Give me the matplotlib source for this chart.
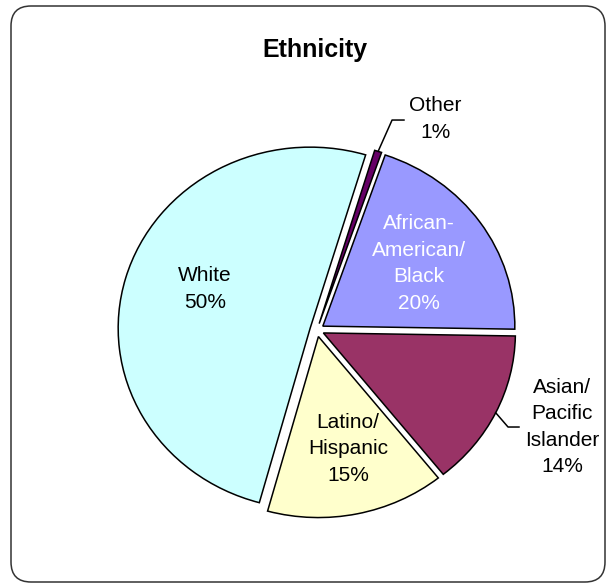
import numpy as np
import matplotlib
matplotlib.use("Agg")
import matplotlib.pyplot as plt
from matplotlib.patches import FancyBboxPatch
from matplotlib.transforms import IdentityTransform

labels = ["Other", "African-\nAmerican/\nBlack", "Asian/\nPacific\nIslander", "Latino/\nHispanic", "White"]
values = [0.6, 20, 14, 15, 50.4]
colors = ["#660066", "#9999FF", "#993366", "#FFFFCC", "#CCFFFF"]
text_colors = ["black", "white", "black", "black", "black"]

# label placement (data units), leader lines for the outside labels
label_xy = [(0.615, 1.166), (0.531, 0.367), (1.276, -0.536), (0.161, -0.657), (-0.583, 0.227)]
leaders = {0: [(0.391, 1.160), (0.453, 1.160)], 2: [(0.995, -0.536), (1.052, -0.536)]}

plt.rcParams["font.family"] = ["Liberation Sans", "DejaVu Sans"]

fig = plt.figure(figsize=(6.08, 5.84), dpi=100)
ax = fig.add_axes([0, 0, 1, 1])

explode = [0.037] * len(values)
wedges, _ = ax.pie(values, colors=colors, explode=explode, startangle=73.2,
                   counterclock=False,
                   wedgeprops=dict(edgecolor="black", linewidth=1.1))
ax.set_aspect("auto")
ax.set_xlim(-317 / 192, (608 - 317) / 192)
ax.set_ylim((330 - 584) / 181, 330 / 181)
ax.axis("off")

total = sum(values)
for i, (w, lab) in enumerate(zip(wedges, labels)):
    pct = "%d%%" % max(1, round(values[i] / total * 100))
    x, y = label_xy[i]
    ax.text(x, y, lab + "\n" + pct, ha="center", va="center", fontsize=15,
            color=text_colors[i], linespacing=1.5)
    if i in leaders:
        mid = np.deg2rad((w.theta1 + w.theta2) / 2)
        cx, cy = w.center
        start = (cx + w.r * np.cos(mid), cy + w.r * np.sin(mid))
        pts = [start] + leaders[i]
        ax.plot([p[0] for p in pts], [p[1] for p in pts], color="black", lw=1.1)

fig.text(315 / 608, 1 - 50 / 584, "Ethnicity", ha="center", va="center",
         fontsize=18, fontweight="bold")

frame = FancyBboxPatch((11, 2), 594, 576, boxstyle="round,pad=0,rounding_size=20",
                       transform=IdentityTransform(), facecolor="none",
                       edgecolor="#333333", linewidth=1.1)
fig.patches.append(frame)

plt.savefig("out.png", dpi=100)
